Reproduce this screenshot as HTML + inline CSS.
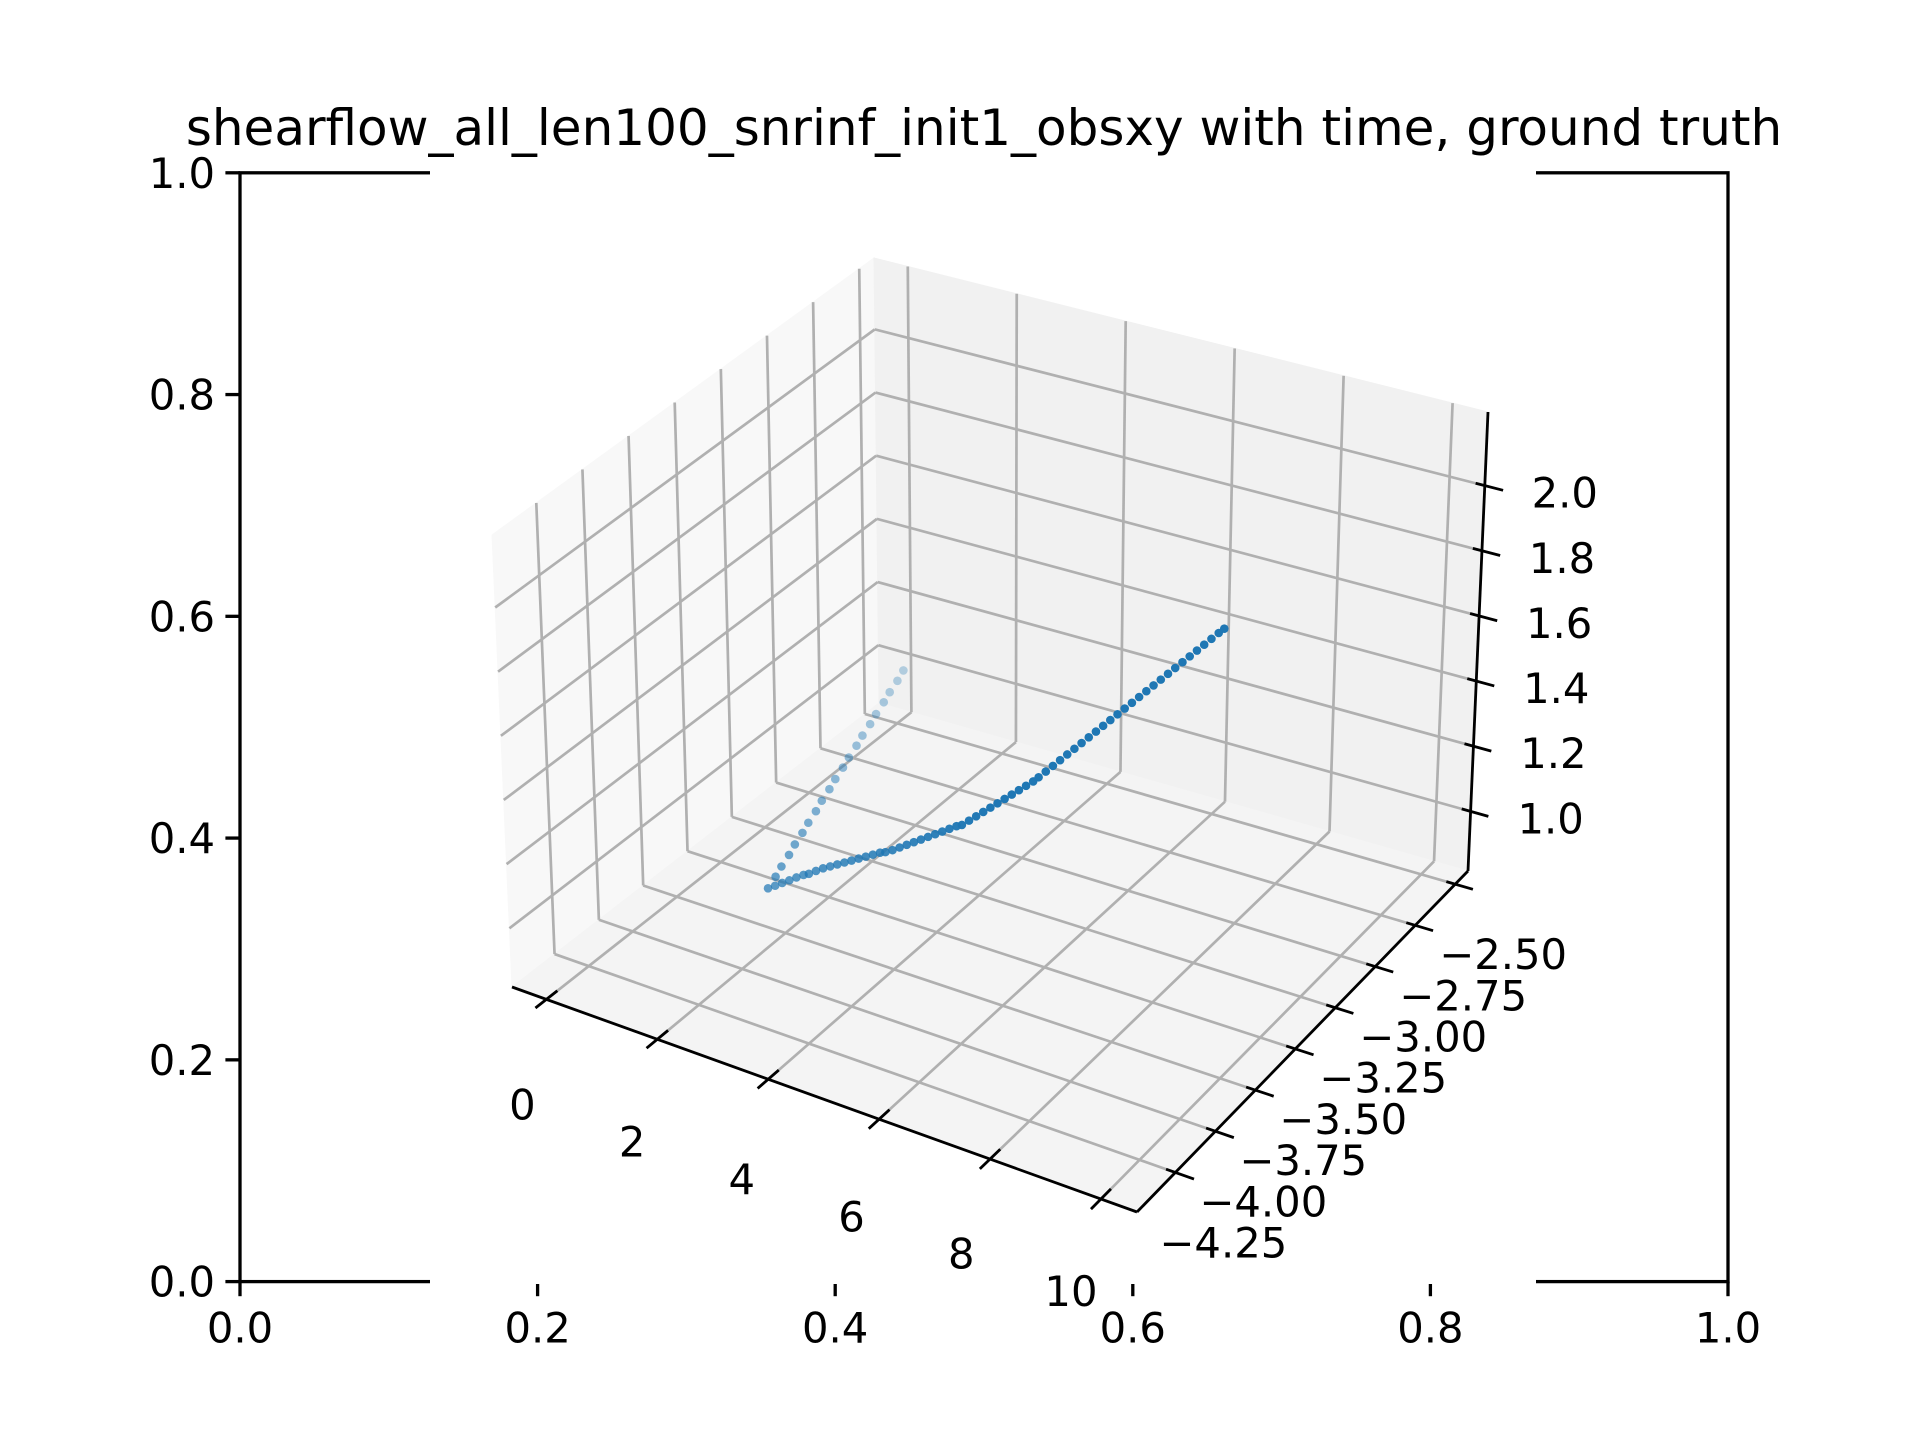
<!DOCTYPE html>
<html><head><meta charset="utf-8"><style>
html,body{margin:0;padding:0;background:#fff;}
svg{display:block;}
text{font-family:"DejaVu Sans","Liberation Sans",sans-serif;fill:#000;}
</style></head><body>
<svg id="chart" width="1920" height="1440" viewBox="0 0 1920 1440" xmlns="http://www.w3.org/2000/svg">
<rect x="0" y="0" width="1920" height="1440" fill="#fff"/>
<text x="984" y="145" font-size="50" text-anchor="middle">shearflow_all_len100_snrinf_init1_obsxy with time, ground truth</text>
<g id="axes2d"></g>
<rect x="430" y="168" width="1106" height="1116" fill="#fff"/>
<g id="axes3d"></g>
</svg>
<script>
// 2D outer axes ticks
const outerXTicks = [0.0, 0.2, 0.4, 0.6, 0.8, 1.0];
const outerYTicks = [0.0, 0.2, 0.4, 0.6, 0.8, 1.0];
// 3D tick values
const xTicks = [0, 2, 4, 6, 8, 10];
const yTicks = [-4.25, -4.00, -3.75, -3.50, -3.25, -3.00, -2.75, -2.50];
const zTicks = [1.0, 1.2, 1.4, 1.6, 1.8, 2.0];
// trajectory data
const trajX = [0.80,0.82,0.84,0.86,0.88,0.90,0.92,0.94,0.96,0.98,1.00,1.02,1.04,1.06,1.08,1.10,1.12,1.14,1.16,1.18,1.20,
1.3,1.4,1.5,1.6,1.7,1.8,1.9,2.0,2.1,2.2,2.3,2.4,2.5,2.6,2.7,2.8,2.9,3.0,3.1,3.2,3.3,3.4,3.5,3.6,3.7,3.8,3.9,4.0,4.1,4.2,4.3,4.4,4.5,4.6,4.7,4.8,4.9,5.0,5.1,5.2,5.3,5.4,5.5,5.6,5.7,5.8,5.9,6.0,6.1,6.2,6.3,6.4,6.5,6.6,6.7,6.8,6.9,7.0,7.1,7.2,7.3,7.4,7.5,7.6,7.7,7.8];
const trajY = [-2.70,-2.74,-2.79,-2.83,-2.88,-2.92,-2.97,-3.01,-3.06,-3.10,-3.15,-3.19,-3.24,-3.28,-3.33,-3.37,-3.42,-3.46,-3.51,-3.55,-3.60,
-3.59,-3.58,-3.57,-3.56,-3.55,-3.55,-3.54,-3.53,-3.52,-3.51,-3.50,-3.49,-3.48,-3.47,-3.46,-3.45,-3.45,-3.44,-3.43,-3.42,-3.41,-3.40,-3.39,-3.38,-3.37,-3.36,-3.35,-3.35,-3.34,-3.33,-3.32,-3.31,-3.30,-3.29,-3.28,-3.27,-3.26,-3.25,-3.25,-3.24,-3.23,-3.22,-3.21,-3.20,-3.19,-3.18,-3.17,-3.16,-3.15,-3.14,-3.13,-3.12,-3.11,-3.10,-3.09,-3.08,-3.07,-3.06,-3.05,-3.04,-3.03,-3.02,-3.01,-3.00,-3.00];
const trajZ = [1.110,1.096,1.083,1.070,1.056,1.043,1.030,1.017,1.003,0.990,0.977,0.964,0.951,0.937,0.924,0.911,0.898,0.884,0.871,0.858,0.845,
0.854,0.864,0.873,0.883,0.892,0.901,0.911,0.920,0.927,0.934,0.941,0.948,0.955,0.962,0.969,0.976,0.983,0.990,0.999,1.008,1.017,1.026,1.035,1.044,1.053,1.062,1.071,1.080,1.094,1.108,1.122,1.136,1.150,1.164,1.178,1.192,1.206,1.220,1.238,1.256,1.274,1.292,1.310,1.328,1.346,1.364,1.382,1.400,1.418,1.436,1.454,1.472,1.490,1.508,1.526,1.544,1.562,1.580,1.598,1.616,1.634,1.652,1.670,1.688,1.706,1.724];

const NS = 'http://www.w3.org/2000/svg';
function mk(parent, tag, attrs) {
  const e = document.createElementNS(NS, tag);
  for (const k in attrs) e.setAttribute(k, attrs[k]);
  parent.appendChild(e);
  return e;
}
// ----- 2D axes -----
const g2 = document.getElementById('axes2d');
const L = 240, R = 1728, T = 172.8, B = 1281.6;
const sx = v => L + v * (R - L);
const sy = v => B - v * (B - T);
let sp = mk(g2, 'rect', {x: L, y: T, width: R - L, height: B - T, fill: 'none', stroke: '#000', 'stroke-width': 3.3});


outerXTicks.forEach(v => {
  const t = mk(g2, 'line', {x1: sx(v), x2: sx(v), y1: B, y2: B + 14.6, stroke: '#000', 'stroke-width': 3.3});
  
  
  const lb = mk(g2, 'text', {x: sx(v), y: B + 61, 'font-size': 41.7, 'text-anchor': 'middle'});
  lb.textContent = v.toFixed(1);
  
  
});
outerYTicks.forEach(v => {
  const t = mk(g2, 'line', {x1: L - 14.6, x2: L, y1: sy(v), y2: sy(v), stroke: '#000', 'stroke-width': 3.3});
  
  
  const lb = mk(g2, 'text', {x: L - 25, y: sy(v) + 15, 'font-size': 41.7, 'text-anchor': 'end'});
  lb.textContent = v.toFixed(1);
  
  
});
// ----- 3D axes -----
const g3 = document.getElementById('axes3d');
const xmin = -0.62, xmax = 10.65, ymin = -4.49, ymax = -2.42, zmin = 0.817, zmax = 2.226;
const C = {
  c000: [512, 987], c100: [1137, 1212], c110: [1468, 871], c010: [879, 703],
  c001: [492, 535], c101: [1142, 737], c111: [1488, 412], c011: [874, 258]
};
function P(x, y, z) {
  const u = (x - xmin) / (xmax - xmin), v = (y - ymin) / (ymax - ymin), w = (z - zmin) / (zmax - zmin);
  const out = [0, 0];
  for (let i = 0; i < 2; i++) {
    const a = C.c000[i] * (1 - u) + C.c100[i] * u;
    const b = C.c010[i] * (1 - u) + C.c110[i] * u;
    const c = C.c001[i] * (1 - u) + C.c101[i] * u;
    const d = C.c011[i] * (1 - u) + C.c111[i] * u;
    const lo = a * (1 - v) + b * v, hi = c * (1 - v) + d * v;
    out[i] = lo * (1 - w) + hi * w;
  }
  return out;
}
function poly(pts, fill, name) {
  const e = mk(g3, 'polygon', {points: pts.map(p => p.join(',')).join(' '), fill: fill, stroke: fill, 'stroke-width': 1});
  
  
}
poly([P(xmin,ymin,zmin), P(xmin,ymax,zmin), P(xmin,ymax,zmax), P(xmin,ymin,zmax)], '#f8f8f8', 'left-pane');
poly([P(xmin,ymax,zmin), P(xmax,ymax,zmin), P(xmax,ymax,zmax), P(xmin,ymax,zmax)], '#f1f1f1', 'back-pane');
poly([P(xmin,ymin,zmin), P(xmax,ymin,zmin), P(xmax,ymax,zmin), P(xmin,ymax,zmin)], '#f4f4f4', 'floor-pane');
function seg(p, q, stroke, w, name) {
  const e = mk(g3, 'line', {x1: p[0], y1: p[1], x2: q[0], y2: q[1], stroke: stroke, 'stroke-width': w});
  
  
  return e;
}
const GC = '#b0b0b0', GW = 2.7;
xTicks.forEach(x => {
  seg(P(x, ymin, zmin), P(x, ymax, zmin), GC, GW, 'floor-gridline-x');
  seg(P(x, ymax, zmin), P(x, ymax, zmax), GC, GW, 'back-gridline-x');
});
yTicks.forEach(y => {
  seg(P(xmin, y, zmin), P(xmax, y, zmin), GC, GW, 'floor-gridline-y');
  seg(P(xmin, y, zmin), P(xmin, y, zmax), GC, GW, 'left-gridline-y');
});
zTicks.forEach(z => {
  seg(P(xmin, ymin, z), P(xmin, ymax, z), GC, GW, 'left-gridline-z');
  seg(P(xmin, ymax, z), P(xmax, ymax, z), GC, GW, 'back-gridline-z');
});
// axis lines
seg(P(xmin, ymin, zmin), P(xmax, ymin, zmin), '#000', 2.8, 'x-axis-line');
seg(P(xmax, ymin, zmin), P(xmax, ymax, zmin), '#000', 2.8, 'y-axis-line');
seg(P(xmax, ymax, zmin), P(xmax, ymax, zmax), '#000', 2.8, 'z-axis-line');
const yr = ymax - ymin, xr = xmax - xmin;
function label(p, txt, name) {
  const e = mk(g3, 'text', {x: p[0], y: p[1] + 15, 'font-size': 41.7, 'text-anchor': 'middle'});
  e.textContent = txt;
  
  
}
xTicks.forEach(x => {
  seg(P(x, ymin - 0.03 * yr, zmin), P(x, ymin + 0.03 * yr, zmin), '#000', 2.8, 'x-tick');
  const b = P(x, ymin, zmin);
  label([b[0] - 24 - x * 0.6, b[1] + 105 - x * 1.3], String(x), 'x-tick-label');
});
yTicks.forEach(y => {
  seg(P(xmax - 0.015 * xr, y, zmin), P(xmax + 0.03 * xr, y, zmin), '#000', 2.8, 'y-tick');
  const b = P(xmax, y, zmin);
  label([b[0] + 48, b[1] + 70], '\u2212' + Math.abs(y).toFixed(2), 'y-tick-label');
});
zTicks.forEach(z => {
  seg(P(xmax - 0.015 * xr, ymax, z), P(xmax + 0.03 * xr, ymax, z), '#000', 2.8, 'z-tick');
  const b = P(xmax, ymax, z);
  label([b[0] + 80, b[1] + 7], z.toFixed(1), 'z-tick-label');
});
// scatter with depth shading
const n = Math.min(trajX.length, trajY.length, trajZ.length);
const pts = [];
for (let i = 0; i < n; i++) {
  const d = 0.5 * (trajY[i] - ymin) / yr - 0.87 * (trajX[i] - xmin) / xr;
  pts.push({i: i, d: d});
}
const dmin = Math.min(...pts.map(p => p.d)), dmax = Math.max(...pts.map(p => p.d));
pts.sort((a, b) => b.d - a.d);
pts.forEach(p => {
  const s = P(trajX[p.i], trajY[p.i], trajZ[p.i]);
  let a = 1 - 0.7 * Math.max(0, (p.d - dmin) / (dmax - dmin) - 0.3) / 0.7;
  const c = mk(g3, 'circle', {cx: s[0], cy: s[1], r: 4.3, fill: '#1f77b4', 'fill-opacity': a.toFixed(3)});
  
  
});
</script>
</body></html>
